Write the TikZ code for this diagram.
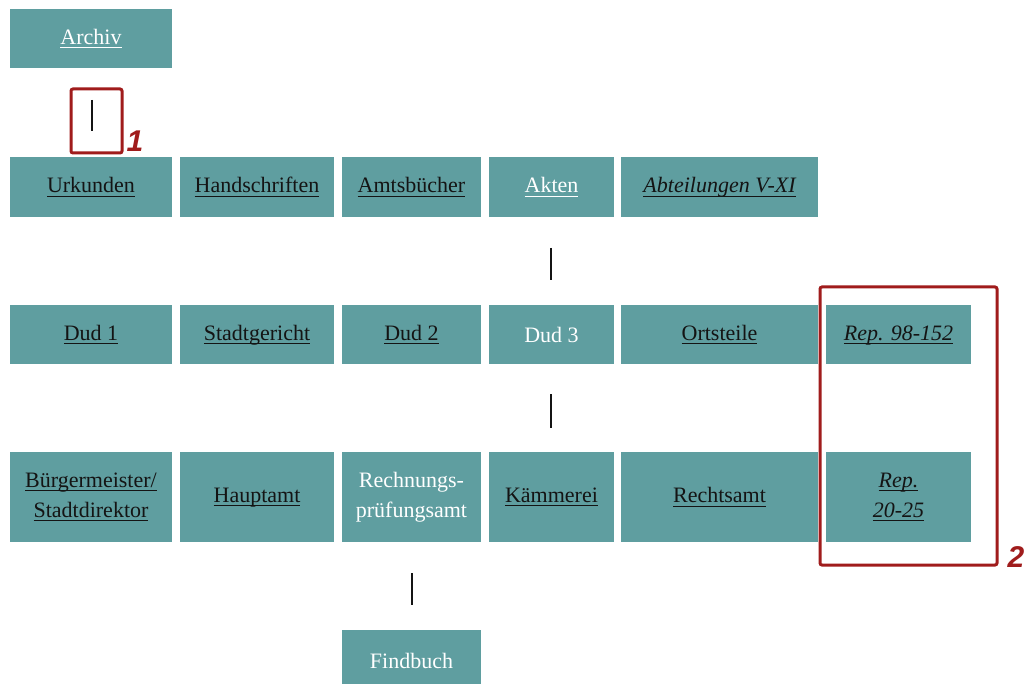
\documentclass[tikz,border=0pt]{standalone}
\usepackage{fontspec}
\setmainfont{Liberation Serif}
\newfontfamily\markfont{Liberation Sans}
\definecolor{boxfill}{HTML}{5F9EA0}
\definecolor{marker}{HTML}{A01C1C}
\definecolor{dark}{HTML}{141414}
\newcommand\uln[1]{{\setbox0\hbox{#1}\dp0=1.5pt\underline{\box0}}}
\tikzset{
  box/.style={fill=boxfill, inner sep=0pt, align=center, text=dark,
    font=\fontsize{22}{30}\selectfont},
  wtext/.style={text=white},
  link/.style={draw=dark, line width=1.4pt},
  mbox/.style={draw=marker, line width=3pt, rounded corners=2pt},
  mlabel/.style={text=marker, font=\markfont\bfseries\itshape\fontsize{30}{30}\selectfont, inner sep=0pt}
}
\begin{document}
\begin{tikzpicture}[x=1pt,y=-1pt]
\clip (0,0) rectangle (1027,684);
\fill[white] (0,0) rectangle (1027,684);
% top
\node[box, wtext, minimum width=162pt, minimum height=59pt] (archiv) at (91,38.5) {\uln{Archiv}};
% row 1
\node[box, minimum width=162pt, minimum height=60pt] (urk) at (91,187) {\uln{Urkunden}};
\node[box, minimum width=154pt, minimum height=60pt] (hand) at (257,187) {\uln{Handschriften}};
\node[box, minimum width=139pt, minimum height=60pt] (amts) at (411.5,187) {\uln{Amtsbücher}};
\node[box, wtext, minimum width=125pt, minimum height=60pt] (akten) at (551.5,187) {\uln{Akten}};
\node[box, minimum width=197pt, minimum height=60pt] (abt) at (719.5,187) {\uln{\itshape Abteilungen V-XI}};
% row 2
\node[box, minimum width=162pt, minimum height=59pt] (dud1) at (91,334.5) {\uln{Dud 1}};
\node[box, minimum width=154pt, minimum height=59pt] (stadt) at (257,334.5) {\uln{Stadtgericht}};
\node[box, minimum width=139pt, minimum height=59pt] (dud2) at (411.5,334.5) {\uln{Dud 2}};
\node[box, wtext, minimum width=125pt, minimum height=59pt] (dud3) at (551.5,334.5) {Dud 3};
\node[box, minimum width=197pt, minimum height=59pt] (orts) at (719.5,334.5) {\uln{Ortsteile}};
\node[box, minimum width=145pt, minimum height=59pt] (rep98) at (898.5,334.5) {\uln{\itshape Rep. 98-152}};
% row 3
\node[box, minimum width=162pt, minimum height=90pt] (buerg) at (91,497) {\uln{Bürgermeister/}\\\uln{Stadtdirektor}};
\node[box, minimum width=154pt, minimum height=90pt] (haupt) at (257,497) {\uln{Hauptamt}};
\node[box, wtext, minimum width=139pt, minimum height=90pt] (rpa) at (411.5,497) {Rechnungs-\\prüfungsamt};
\node[box, minimum width=125pt, minimum height=90pt] (kaem) at (551.5,497) {\uln{Kämmerei}};
\node[box, minimum width=197pt, minimum height=90pt] (recht) at (719.5,497) {\uln{Rechtsamt}};
\node[box, minimum width=145pt, minimum height=90pt] (rep20) at (898.5,497) {\uln{\itshape Rep.}\\\uln{\itshape 20-25}};
% bottom
\node[box, wtext, minimum width=139pt, minimum height=62pt] (find) at (411.5,661) {Findbuch};
% connector marks
\coordinate (l1a) at (92,100); \coordinate (l1b) at (92,131);
\coordinate (l2a) at (551,248); \coordinate (l2b) at (551,280);
\coordinate (l3a) at (551,394); \coordinate (l3b) at (551,428);
\coordinate (l4a) at (412,573); \coordinate (l4b) at (412,605);
\draw[link] (l1a) -- (l1b);
\draw[link] (l2a) -- (l2b);
\draw[link] (l3a) -- (l3b);
\draw[link] (l4a) -- (l4b);
% red markers
\draw[mbox] (71,89) rectangle (122,153);
\node[mlabel] (m1) at (135,141) {1};
\draw[mbox] (820,287) rectangle (997,565);
\node[mlabel] (m2) at (1016,557) {2};
\end{tikzpicture}
\end{document}
